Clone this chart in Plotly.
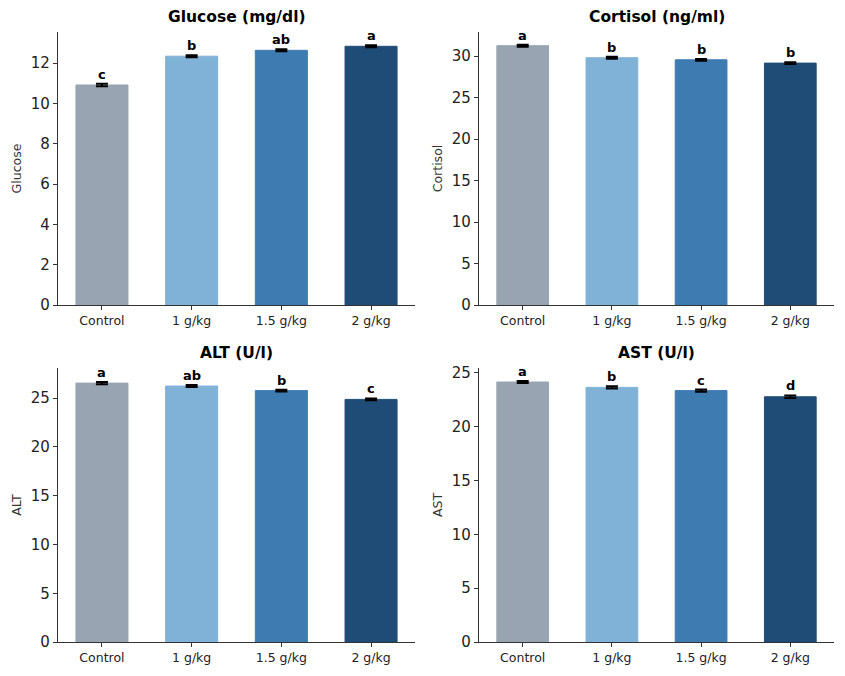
import plotly.graph_objects as go
from plotly.subplots import make_subplots

groups = ["Control", "1 g/kg", "1.5 g/kg", "2 g/kg"]
bar_colors = ["#98a4b1", "#7fb2d6", "#3e7bb1", "#1f4c76"]

glucose = [10.92, 12.35, 12.64, 12.84]
glucose_err = [0.06, 0.05, 0.05, 0.05]
glucose_sig = ["c", "b", "ab", "a"]

cortisol = [31.25, 29.8, 29.55, 29.15]
cortisol_err = [0.12, 0.12, 0.1, 0.1]
cortisol_sig = ["a", "b", "b", "b"]

alt = [26.55, 26.25, 25.78, 24.88]
alt_err = [0.12, 0.1, 0.1, 0.1]
alt_sig = ["a", "ab", "b", "c"]

ast = [24.15, 23.65, 23.35, 22.78]
ast_err = [0.1, 0.1, 0.1, 0.12]
ast_sig = ["a", "b", "c", "d"]

panels = [
    ("Glucose (mg/dl)", "Glucose", glucose, glucose_err, glucose_sig, [0, 13.55], 2),
    ("Cortisol (ng/ml)", "Cortisol", cortisol, cortisol_err, cortisol_sig, [0, 32.9], 5),
    ("ALT (U/l)", "ALT", alt, alt_err, alt_sig, [0, 28.1], 5),
    ("AST (U/l)", "AST", ast, ast_err, ast_sig, [0, 25.45], 5),
]

# page body adds an 8px offset, so the figure is a little smaller than the window
W, H = 837, 668

fig = make_subplots(rows=2, cols=2)

x_domains = [[50 / W, 407 / W], [471 / W, 826 / W]]
y_domains = [[(H - 297) / H, (H - 24) / H], [(H - 634) / H, (H - 360) / H]]

annotations = []
for i, (title, ylab, vals, errs, sig, yr, dtick) in enumerate(panels):
    r, c = i // 2 + 1, i % 2 + 1
    fig.add_trace(
        go.Bar(
            x=groups, y=vals,
            marker=dict(color=bar_colors, line=dict(color=bar_colors, width=1)),
            width=0.58,
            error_y=dict(type="data", array=errs, color="black", thickness=2, width=6),
            showlegend=False,
        ),
        row=r, col=c,
    )
    n = "" if i == 0 else str(i + 1)
    for g, v, e, s in zip(groups, vals, errs, sig):
        annotations.append(dict(
            x=g, y=v + e, xref="x" + n, yref="y" + n,
            text="<b>" + s + "</b>", showarrow=False,
            xanchor="center", yanchor="bottom", yshift=0,
            font=dict(size=13, color="black"),
        ))
    xd = x_domains[c - 1]
    yd = y_domains[r - 1]
    annotations.append(dict(
        x=(xd[0] + xd[1]) / 2, y=yd[1] + 0.006, xref="paper", yref="paper",
        text="<b>" + title + "</b>", showarrow=False,
        xanchor="center", yanchor="bottom",
        font=dict(size=15.5, color="black"),
    ))
    fig.update_xaxes(
        domain=xd, range=[-0.49, 3.49], showline=True, linecolor="#333333", linewidth=1.3,
        ticks="outside", ticklen=4, tickcolor="#333333", showgrid=False, automargin=False,
        tickfont=dict(size=12.5, color="#222222"), row=r, col=c,
    )
    fig.update_yaxes(
        domain=yd, range=yr, dtick=dtick, showline=True, linecolor="#333333", linewidth=1.3,
        ticks="outside", ticklen=4, tickcolor="#333333", showgrid=False, zeroline=False,
        automargin=False,
        tickfont=dict(size=15, color="#222222"),
        title=dict(text=ylab, font=dict(size=12.5, color="#333333"), standoff=6),
        row=r, col=c,
    )

fig.update_layout(
    width=W, height=H,
    margin=dict(l=0, r=0, t=0, b=0),
    paper_bgcolor="white", plot_bgcolor="white",
    font=dict(family="DejaVu Sans"),
    annotations=annotations,
)

fig.write_html("out.html")
